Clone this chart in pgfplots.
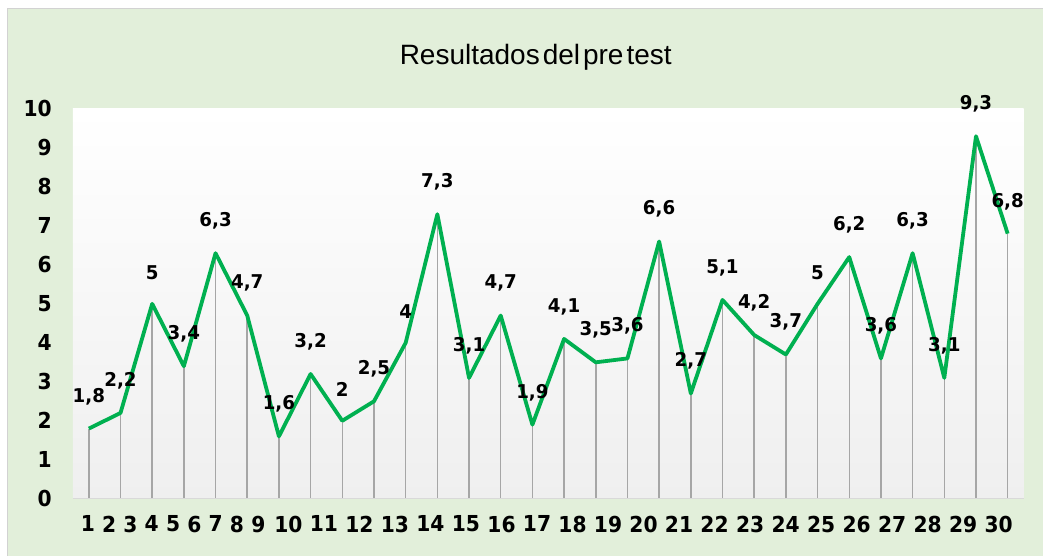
\documentclass[border=0pt]{standalone}
\usepackage{pgfplots}
\pgfplotsset{compat=1.18}
\usepackage{pgfplotstable}
\usepackage{fontspec}
\setmainfont{Liberation Sans}
\newfontfamily\tahoma[FakeStretch=0.92]{DejaVu Sans}
\newfontfamily\tahomalab[FakeStretch=0.96]{DejaVu Sans}
\definecolor{bggreen}{HTML}{E2EFDA}
\definecolor{linegreen}{HTML}{00B050}
\definecolor{dropgray}{HTML}{A6A6A6}

\pgfplotstableread{
x y
1 1.8
2 2.2
3 5
4 3.4
5 6.3
6 4.7
7 1.6
8 3.2
9 2
10 2.5
11 4
12 7.3
13 3.1
14 4.7
15 1.9
16 4.1
17 3.5
18 3.6
19 6.6
20 2.7
21 5.1
22 4.2
23 3.7
24 5
25 6.2
26 3.6
27 6.3
28 3.1
29 9.3
30 6.8
}\datatable

\begin{document}
\begin{tikzpicture}[x=1bp,y=1bp]
\fill[white] (0,0) rectangle (1043,556);
\fill[bggreen] (8,0) rectangle (1043,547);
\draw[gray!35, line width=1bp] (8,0) -- (8,547) -- (1043,547);
\node[font=\fontsize{28bp}{28bp}\selectfont, anchor=base, inner sep=0pt] at (536,491) {Resultados\hspace{3bp}del\hspace{3bp}pre\hspace{3bp}test};
\begin{axis}[
  at={(73bp,57bp)}, anchor=south west,
  scale only axis, width=951bp, height=390bp,
  xmin=0.5, xmax=30.5, ymin=0, ymax=10,
  axis line style={draw=none},
  axis background/.style={top color=white, bottom color={rgb,255:red,239;green,239;blue,239}},
  ytick={0,1,2,3,4,5,6,7,8,9,10},
  xtick={0.968,1.641,2.314,2.987,3.659,4.332,5.005,5.678,6.350,7.300,8.421,9.542,10.663,11.783,12.904,14.025,15.145,16.266,17.387,18.508,19.628,20.749,21.870,22.991,24.111,25.232,26.353,27.474,28.594,29.715},
  xticklabels={1,2,3,4,5,6,7,8,9,10,11,12,13,14,15,16,17,18,19,20,21,22,23,24,25,26,27,28,29,30},
  major tick length=0pt,
  tick label style={font=\tahoma\bfseries\fontsize{22bp}{22bp}\selectfont, inner sep=0pt, text=black},
  yticklabel style={anchor=east, xshift=-21bp},
  xticklabel style={anchor=north, yshift=-17bp},
  /pgf/number format/assume math mode=true,
  clip=false,
]
\addplot[ycomb, dropgray, line width=1.5bp, mark=none] table[x=x,y=y] {\datatable};
\addplot[linegreen, line width=3.8bp, line join=round, mark=none,
  nodes near coords,
  nodes near coords style={font=\tahomalab\bfseries\fontsize{19bp}{19bp}\selectfont, text=black, anchor=south, inner sep=0pt, yshift=22bp, /pgf/number format/use comma, /pgf/number format/assume math mode=true}]
  table[x=x,y=y] {\datatable};
\draw[gray!30, line width=1bp] (axis cs:0.5,0) -- (axis cs:30.5,0);
\end{axis}
\useasboundingbox (0,0) rectangle (1043,556);
\end{tikzpicture}
\end{document}
